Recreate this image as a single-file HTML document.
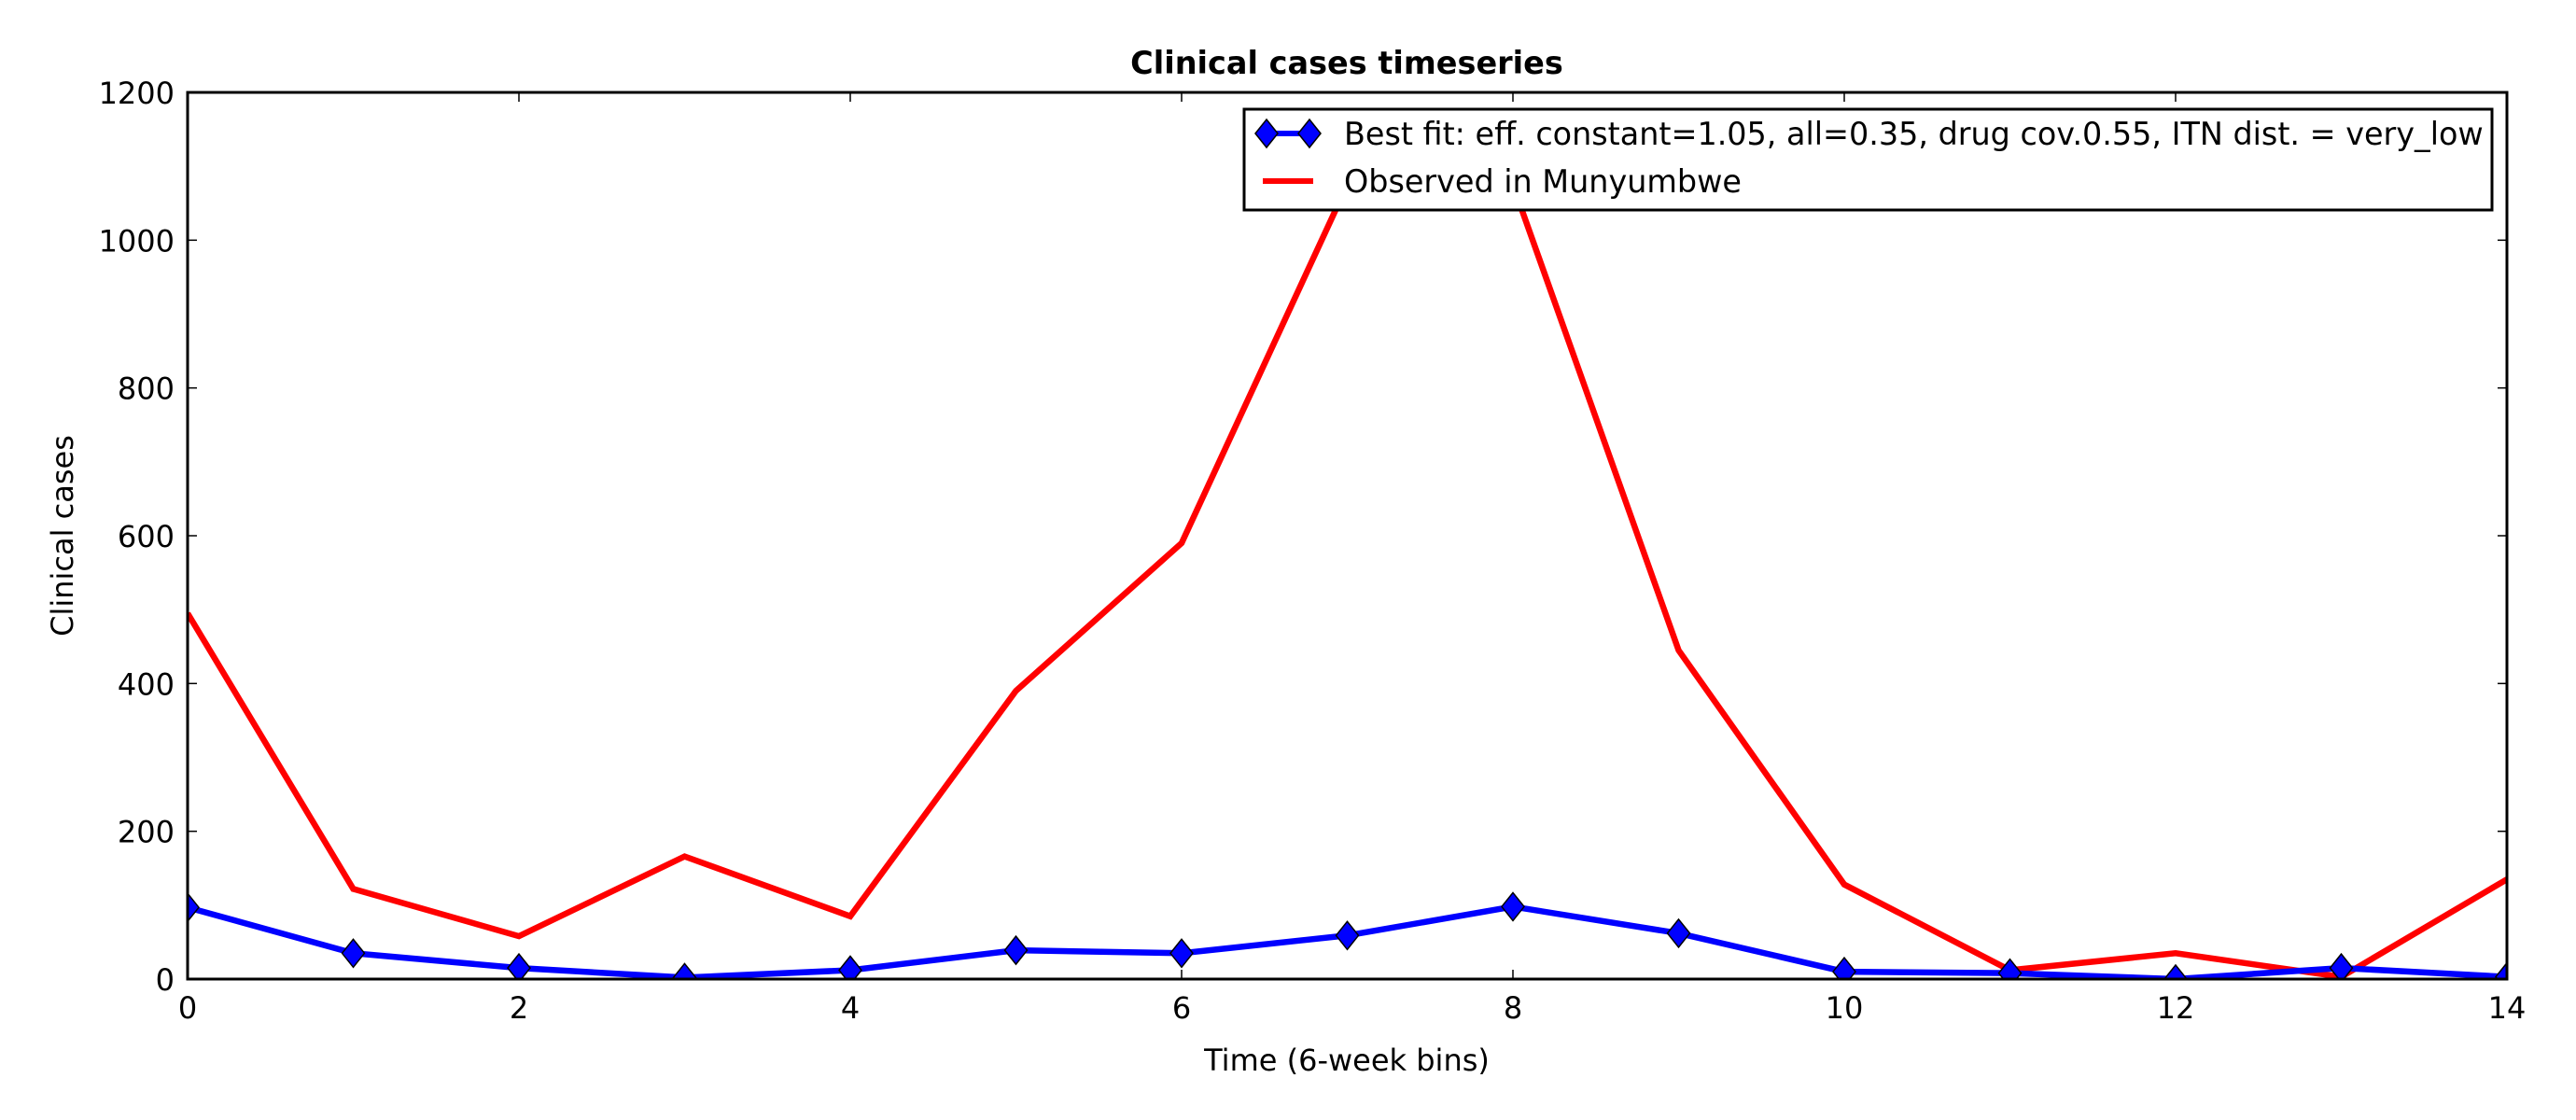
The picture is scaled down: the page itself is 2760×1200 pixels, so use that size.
<!DOCTYPE html>
<html><head><meta charset="utf-8"><style>
html,body{margin:0;padding:0;background:#fff;}
svg{display:block;font-family:"DejaVu Sans","Liberation Sans",sans-serif;}
</style></head><body>
<svg id="chart" width="2760" height="1200" viewBox="0 0 2760 1200">
<text x="1443" y="79" text-anchor="middle" font-size="33.5" font-weight="bold">Clinical cases timeseries</text>
<g id="plot"></g>
<text x="1443" y="1147" text-anchor="middle" font-size="32">Time (6-week bins)</text>
<text x="0" y="0" transform="translate(78,574) rotate(-90)" text-anchor="middle" font-size="32">Clinical cases</text>
</svg>
<script>
const xTicks=[0,2,4,6,8,10,12,14];
const yTicks=[0,200,400,600,800,1000,1200];
const timeBins=[0,1,2,3,4,5,6,7,8,9,10,11,12,13,14];
const bestFit=[97,35,15,2,12,39,35,59,98,62,10,8,0,15,3];
const observed=[495,122,58,166,85,390,590,1075,1075,445,128,12,35,3,135];
const L=201,R=2686,T=99,B=1049;
const sx=v=>L+(v-0)/(14-0)*(R-L);
const sy=v=>B-(v-0)/(1200-0)*(B-T);
const NS='http://www.w3.org/2000/svg';
const g=document.getElementById('plot');
function mk(t,a){const e=document.createElementNS(NS,t);for(const k in a)e.setAttribute(k,a[k]);g.appendChild(e);return e;}
xTicks.forEach(v=>{
 const x=sx(v);
 let e=mk('line',{x1:x,x2:x,y1:B,y2:B-10,stroke:'#000','stroke-width':1.5});
 
 
 e=mk('line',{x1:x,x2:x,y1:T,y2:T+10,stroke:'#000','stroke-width':1.5});
 
 
 e=mk('text',{x:x,y:B+42,'text-anchor':'middle','font-size':32});
 e.textContent=v;
 
 
});
yTicks.forEach(v=>{
 const y=sy(v);
 let e=mk('line',{x1:L,x2:L+10,y1:y,y2:y,stroke:'#000','stroke-width':1.5});
 
 
 e=mk('line',{x1:R,x2:R-10,y1:y,y2:y,stroke:'#000','stroke-width':1.5});
 
 
 e=mk('text',{x:L-14,y:y+12,'text-anchor':'end','font-size':32});
 e.textContent=v;
 
 
});
const defs=mk('defs',{});
const cp=document.createElementNS(NS,'clipPath');cp.setAttribute('id','clip');
const cr=document.createElementNS(NS,'rect');cr.setAttribute('x',L);cr.setAttribute('y',T);cr.setAttribute('width',R-L);cr.setAttribute('height',B-T);
cp.appendChild(cr);defs.appendChild(cp);
let p=mk('polyline',{points:timeBins.map((t,i)=>sx(t)+','+sy(observed[i])).join(' '),fill:'none',stroke:'#ff0000','stroke-width':6.5,'stroke-linejoin':'miter','clip-path':'url(#clip)'});


p=mk('polyline',{points:timeBins.map((t,i)=>sx(t)+','+sy(bestFit[i])).join(' '),fill:'none',stroke:'#0000ff','stroke-width':6.5,'clip-path':'url(#clip)'});


function diamond(x,y){return `${x},${y-15} ${x+12},${y} ${x},${y+15} ${x-12},${y}`;}
timeBins.forEach((t,i)=>{
 const d=mk('polygon',{points:diamond(sx(t),sy(bestFit[i])),fill:'#0000ff',stroke:'#000','stroke-width':1.5,'clip-path':'url(#clip)'});
 
 
});
let fr=mk('rect',{x:L,y:T,width:R-L,height:B-T,fill:'none',stroke:'#000','stroke-width':3});


const lg=mk('g',{});


const lr=document.createElementNS(NS,'rect');
[['x',1333],['y',117],['width',1337],['height',108],['fill','#fff'],['stroke','#000'],['stroke-width',3]].forEach(a=>lr.setAttribute(a[0],a[1]));
lg.appendChild(lr);
function add(par,t,a){const e=document.createElementNS(NS,t);for(const k in a)e.setAttribute(k,a[k]);par.appendChild(e);return e;}
const e1=add(lg,'g',{});


add(e1,'line',{x1:1357,x2:1403,y1:143,y2:143,stroke:'#0000ff','stroke-width':6});
add(e1,'polygon',{points:diamond(1357,143),fill:'#0000ff',stroke:'#000','stroke-width':1.5});
add(e1,'polygon',{points:diamond(1403,143),fill:'#0000ff',stroke:'#000','stroke-width':1.5});
const t1=add(e1,'text',{x:1440,y:155,'font-size':33.4});
t1.textContent='Best fit: eff. constant=1.05, all=0.35, drug cov.0.55, ITN dist. = very_low';
const e2=add(lg,'g',{});


add(e2,'line',{x1:1353,x2:1407,y1:194,y2:194,stroke:'#ff0000','stroke-width':6});
const t2=add(e2,'text',{x:1440,y:206,'font-size':33.4});
t2.textContent='Observed in Munyumbwe';
</script>
</body></html>
